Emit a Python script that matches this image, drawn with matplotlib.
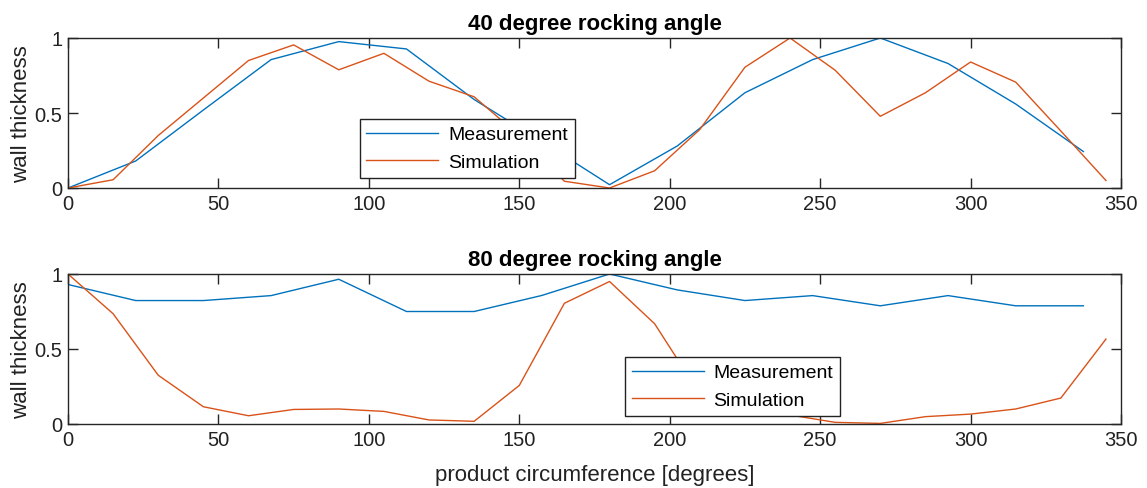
import numpy as np
import matplotlib
matplotlib.use("Agg")
import matplotlib.pyplot as plt
from matplotlib.ticker import FuncFormatter

# ---- data ----
meas_x = [0, 22.5, 45, 67.5, 90, 112.5, 135, 157.5, 180, 202.5, 225, 247.5, 270, 292.5, 315, 337.5]
sim_x = [0, 15, 30, 45, 60, 75, 90, 105, 120, 135, 150, 165, 180, 195, 210, 225, 240, 255, 270, 285, 300, 315, 330, 345]

meas_40 = [0.0, 0.18, 0.52, 0.856, 0.976, 0.927, 0.59, 0.31, 0.022, 0.28, 0.635, 0.856, 1.0, 0.83, 0.56, 0.243]
sim_40 = [0.0, 0.055, 0.35, 0.60, 0.85, 0.954, 0.788, 0.898, 0.712, 0.608, 0.35, 0.045, 0.0, 0.115, 0.39, 0.805, 1.0, 0.785, 0.478, 0.635, 0.84, 0.706, 0.38, 0.05]

meas_80 = [0.93, 0.823, 0.823, 0.856, 0.965, 0.75, 0.75, 0.857, 1.0, 0.894, 0.823, 0.856, 0.788, 0.856, 0.788, 0.788]
sim_80 = [1.0, 0.735, 0.325, 0.115, 0.055, 0.097, 0.10, 0.084, 0.027, 0.018, 0.257, 0.805, 0.95, 0.668, 0.2, 0.1, 0.06, 0.011, 0.004, 0.049, 0.066, 0.10, 0.173, 0.566]

titles = ["40 degree rocking angle", "80 degree rocking angle"]
series_labels = ["Measurement", "Simulation"]
xticks = [0, 50, 100, 150, 200, 250, 300, 350]
yticks = [0, 0.5, 1]

plt.rcParams['font.family'] = ['Liberation Sans', 'DejaVu Sans']

W, H = 1147, 489
fig = plt.figure(figsize=(W / 100, H / 100), dpi=100)

blue = "#0072BD"
orange = "#D95319"
axcol = "#262626"

def fmt(v, pos):
    return ("%g" % v)

def make_ax(rect, meas, sim, title, leg_anchor, xlabel=None):
    ax = fig.add_axes(rect)
    ax.plot(meas_x, meas, color=blue, lw=1.0, label=series_labels[0])
    ax.plot(sim_x, sim, color=orange, lw=1.0, label=series_labels[1])
    ax.set_xlim(0, 350)
    ax.set_ylim(0, 1)
    ax.set_xticks(xticks)
    ax.set_yticks(yticks)
    ax.yaxis.set_major_formatter(FuncFormatter(fmt))
    ax.tick_params(direction='in', length=7, width=1.0, top=True, right=True,
                   labelsize=14.5, colors=axcol, labelcolor='#222222', pad=4)
    for s in ax.spines.values():
        s.set_color(axcol)
        s.set_linewidth(1.0)
    ax.set_title(title, fontsize=16, fontweight='bold', pad=6.5)
    ax.set_ylabel("wall thickness", fontsize=16, color='#222222', labelpad=2)
    if xlabel:
        ax.set_xlabel(xlabel, fontsize=16, color='#222222', labelpad=11)
    leg = ax.legend(loc='upper left', bbox_to_anchor=leg_anchor, borderaxespad=0,
                    fontsize=14, frameon=True, fancybox=False, framealpha=1,
                    edgecolor='#222222', handlelength=3.7, handletextpad=0.5,
                    borderpad=0.35, labelspacing=0.5)
    leg.get_frame().set_linewidth(1.0)
    return ax

left = 68 / W
width = (1121 - 68) / W
height = 150 / H

make_ax([left, (H - 189) / H, width, height], meas_40, sim_40, titles[0], (0.277, 0.46))
make_ax([left, (H - 425) / H, width, height], meas_80, sim_80, titles[1], (0.529, 0.447),
        xlabel="product circumference [degrees]")

fig.savefig("out.png", dpi=100)
